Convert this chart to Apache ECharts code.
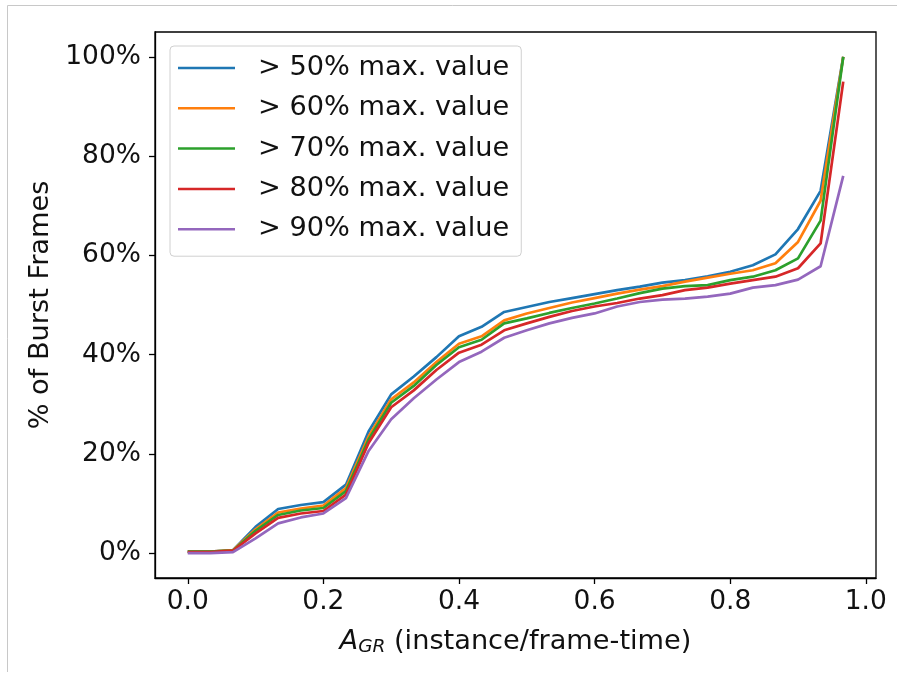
<!DOCTYPE html>
<html>
<head>
<meta charset="utf-8">
<script src="https://cdn.jsdelivr.net/npm/echarts@6/dist/echarts.min.js"></script>
<style>html,body{margin:0;padding:0;background:#fff;}#c{width:897px;height:677px;}</style>
</head>
<body>
<div id="c"></div>
<script>
const xValues = [0, 0.0333, 0.0667, 0.1, 0.1333, 0.1667, 0.2, 0.2333, 0.2667, 0.3,
  0.3333, 0.3667, 0.4, 0.4333, 0.4667, 0.5, 0.5333, 0.5667, 0.6, 0.6333,
  0.6667, 0.7, 0.7333, 0.7667, 0.8, 0.8333, 0.8667, 0.9, 0.9333, 0.9667];
const seriesNames = ['> 50% max. value', '> 60% max. value', '> 70% max. value', '> 80% max. value', '> 90% max. value'];
const s50 = [0.3,0.3,0.6,5.3,8.9,9.7,10.3,13.8,24.5,32,35.6,39.5,43.7,45.6,48.6,49.6,50.6,51.4,52.2,53,53.7,54.5,55,55.8,56.7,58,60.2,65.3,73,100];
const s60 = [0.3,0.3,0.6,4.8,8.2,9.0,9.6,13.1,23.5,31,34.4,38.5,42.2,43.7,46.9,48.3,49.4,50.5,51.4,52.3,53.1,53.8,54.7,55.5,56.3,57,58.4,62.7,71,100];
const s70 = [0.3,0.3,0.5,4.5,7.7,8.6,9.1,12.5,22.9,30.3,33.7,37.9,41.5,43,46.3,47.3,48.4,49.4,50.3,51.3,52.4,53.3,53.8,54,55,55.7,57,59.4,67,100];
const s80 = [0.2,0.2,0.5,4.0,7.1,8.0,8.5,11.8,22.2,29.4,32.8,36.9,40.4,42,44.9,46.3,47.6,48.8,49.7,50.4,51.3,52,53,53.5,54.3,55,55.7,57.4,62.4,95];
const s90 = [0,0,0.2,3.0,6.0,7.2,8.0,11.1,20.6,27,31.2,35,38.5,40.6,43.4,44.9,46.3,47.4,48.3,49.7,50.6,51.1,51.3,51.7,52.3,53.5,54,55.1,57.8,76];
const xTicks = [0, 0.2, 0.4, 0.6, 0.8, 1.0];
const yTicks = [0, 20, 40, 60, 80, 100];
const colors = ['#1f77b4', '#ff7f0e', '#2ca02c', '#d62728', '#9467bd'];

const allSeries = [s50, s60, s70, s80, s90];
const FONT = 'DejaVu Sans';
const FS = 26.5;
const FL = 27.2;
const chart = echarts.init(document.getElementById('c'), null, {renderer: 'canvas'});
chart.setOption({
  animation: false,
  backgroundColor: '#fff',
  color: colors,
  textStyle: {fontFamily: FONT},
  graphic: [
    {type: 'line', shape: {x1: 7.5, y1: 5.5, x2: 897, y2: 5.5}, style: {stroke: '#c8c8c8', lineWidth: 1}},
    {type: 'line', shape: {x1: 7.5, y1: 5.5, x2: 7.5, y2: 672}, style: {stroke: '#c8c8c8', lineWidth: 1}}
  ],
  grid: {left: 155, right: 21, top: 32, bottom: 99, show: true, borderColor: '#000', borderWidth: 1.3, backgroundColor: 'transparent'},
  legend: {
    orient: 'vertical', left: 170, top: 46,
    data: seriesNames,
    icon: 'rect', itemWidth: 57, itemHeight: 2.5, itemGap: 12.3,
    padding: [8, 12, 13, 8],
    backgroundColor: 'rgba(255,255,255,0.8)',
    borderColor: '#d0d0d0', borderWidth: 1, borderRadius: 4,
    textStyle: {fontFamily: FONT, fontSize: FL, color: '#111', padding: [0, 0, 0, 18], lineHeight: 28}
  },
  xAxis: {
    type: 'value', min: -0.0483, max: 1.015,
    name: '{a|A}{s|GR} (instance/frame-time)',
    nameLocation: 'middle', nameGap: 49,
    nameTextStyle: {
      fontFamily: FONT, fontSize: FL, color: '#111',
      rich: {
        a: {fontFamily: FONT, fontSize: FL, fontStyle: 'italic', color: '#111'},
        s: {fontFamily: FONT, fontSize: 18.5, fontStyle: 'italic', color: '#111', padding: [11, 0, 0, 0]}
      }
    },
    axisLine: {show: true, onZero: false, lineStyle: {color: '#000', width: 1.3}},
    axisTick: {show: true, length: 6, lineStyle: {color: '#000', width: 1.3}, customValues: xTicks},
    axisLabel: {fontFamily: FONT, fontSize: FS, color: '#111', margin: 11, customValues: xTicks,
      formatter: v => v.toFixed(1)},
    splitLine: {show: false}
  },
  yAxis: {
    type: 'value', min: -5, max: 105,
    name: '% of Burst Frames',
    nameLocation: 'middle', nameGap: 101,
    nameTextStyle: {fontFamily: FONT, fontSize: FL, color: '#111'},
    axisLine: {show: true, onZero: false, lineStyle: {color: '#000', width: 1.3}},
    axisTick: {show: true, length: 6, lineStyle: {color: '#000', width: 1.3}, customValues: yTicks},
    axisLabel: {fontFamily: FONT, fontSize: FS, color: '#111', margin: 14, customValues: yTicks,
      formatter: v => v + '%'},
    splitLine: {show: false}
  },
  series: allSeries.map((arr, k) => ({
    name: seriesNames[k], type: 'line', symbol: 'none', showSymbol: false,
    lineStyle: {width: 2.7, color: colors[k]},
    itemStyle: {color: colors[k]},
    data: xValues.map((x, i) => [x, arr[i]])
  }))
});
</script>
</body>
</html>
